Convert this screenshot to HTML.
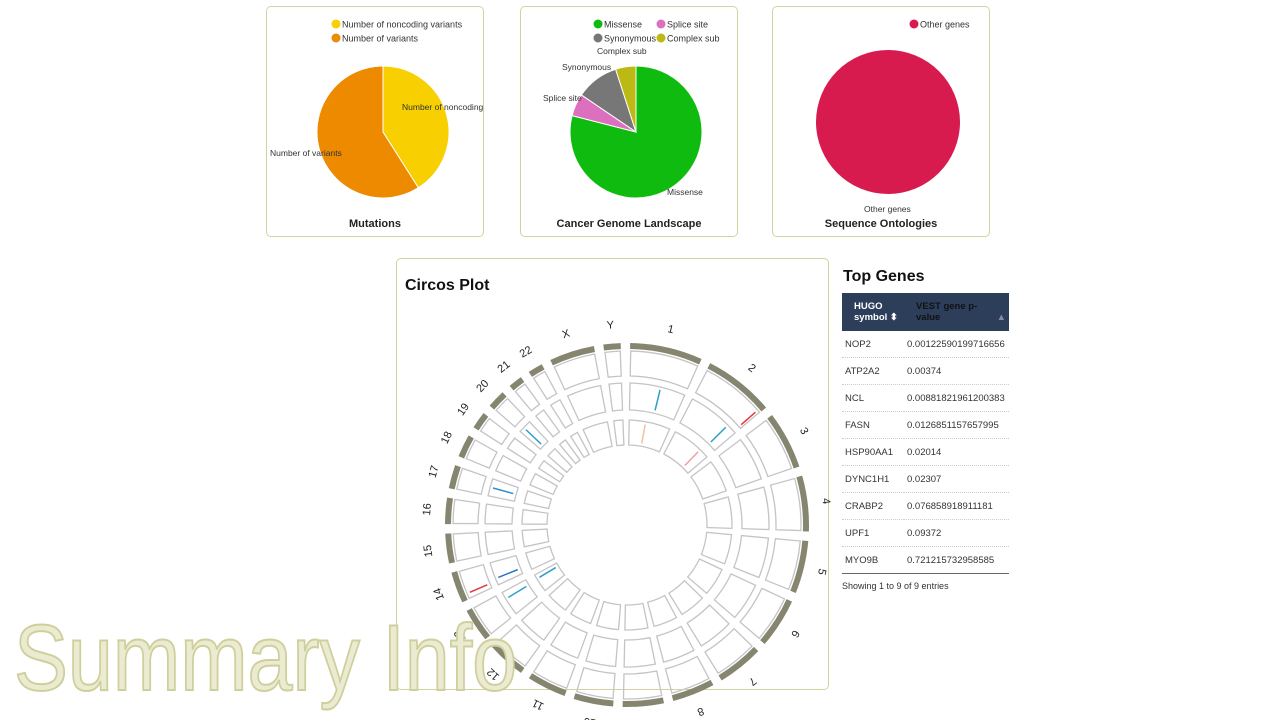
<!DOCTYPE html>
<html><head><meta charset="utf-8"><style>
body{margin:0;width:1280px;height:720px;background:#fff;font-family:"Liberation Sans",sans-serif;position:relative;overflow:hidden}
.box{position:absolute;border:1px solid #d2d2a0;border-radius:5px;background:#fff}
.ttl{position:absolute;width:100%;text-align:center;font-weight:bold;font-size:11px;color:#222}
.tbl{position:absolute;left:842px;top:293px;width:167px;font-size:9.5px;color:#333;border-collapse:collapse}
.tbl th{background:#2c3e5a;color:#fff;text-align:left;font-size:9.5px;height:38px;padding:0 0 0 12px;font-weight:bold;line-height:11px}
.tbl td{height:26px;border-bottom:1px dotted #ccc;padding:0 0 0 3px;white-space:nowrap}
svg text{font-family:"Liberation Sans",sans-serif}
</style></head><body>
<div class="box" style="left:266px;top:6px;width:216px;height:229px">
<div class="ttl" style="top:211px">Mutations</div></div>
<div class="box" style="left:520px;top:6px;width:216px;height:229px">
<div class="ttl" style="top:211px">Cancer Genome Landscape</div></div>
<div class="box" style="left:772px;top:6px;width:216px;height:229px">
<div class="ttl" style="top:211px">Sequence Ontologies</div></div>
<div class="box" style="left:396px;top:258px;width:431px;height:430px">
<div style="position:absolute;left:8px;top:18px;font-size:16px;font-weight:bold;color:#111">Circos Plot</div></div>
<div style="position:absolute;left:843px;top:268px;font-size:16px;font-weight:bold;color:#111">Top Genes</div>
<table class="tbl">
<tr><th style="width:50px">HUGO<br>symbol ⬍</th><th style="color:#111">VEST gene p-<br>value <span style="float:right;color:#88a;padding-right:3px">▲</span></th></tr>
<tr><td>NOP2</td><td>0.00122590199716656</td></tr>
<tr><td>ATP2A2</td><td>0.00374</td></tr>
<tr><td>NCL</td><td>0.00881821961200383</td></tr>
<tr><td>FASN</td><td>0.0126851157657995</td></tr>
<tr><td>HSP90AA1</td><td>0.02014</td></tr>
<tr><td>DYNC1H1</td><td>0.02307</td></tr>
<tr><td>CRABP2</td><td>0.076858918911181</td></tr>
<tr><td>UPF1</td><td>0.09372</td></tr>
<tr><td style="border-bottom:1px solid #666">MYO9B</td><td style="border-bottom:1px solid #666">0.721215732958585</td></tr>
</table>
<div style="position:absolute;left:842px;top:581px;font-size:9px;color:#333">Showing 1 to 9 of 9 entries</div>
<svg id="svg" width="1280" height="720" style="position:absolute;left:0;top:0"></svg>
<div style="position:absolute;left:14px;top:604px;font-size:94px;color:#ebebd2;-webkit-text-stroke:2px #cfcf9c;white-space:nowrap;transform:scaleX(0.86);transform-origin:0 0">Summary Info</div>
<script>
const mutLabels=["Number of noncoding variants","Number of variants"];
const mutValues=[41,59];
const mutColors=["#f8cf00","#ee8a00"];
const cglLabels=["Missense","Splice site","Synonymous","Complex sub"];
const cglValues=[79,5.5,10.5,5];
const cglColors=["#10bb10","#dd6fbf","#777777","#bcb814"];
const soLabels=["Other genes"];
const soValues=[1];
const soColors=["#d81b4f"];
const chrNames=["1","2","3","4","5","6","7","8","9","10","11","12","13","14","15","16","17","18","19","20","21","22","X","Y"];
const chrLengths=[249,243,198,191,181,171,159,146,141,136,135,134,115,107,102,90,81,78,59,63,48,51,155,59];
const markChr=[0,1,1,1,13,13,12,12,19,16,0];
const markPos=[0.55,0.95,0.8,0.75,0.2,0.3,0.7,0.75,0.4,0.5,0.4];
const markRing=[1,0,1,2,0,1,1,2,1,1,2];
const markColor=["#2aa0c8","#e83838","#2aa0c8","#f0a0a0","#e83838","#2a70c8","#2aa0c8","#2aa0c8","#2aa0c8","#2a90c8","#f0c0a0"];
const svg=document.getElementById('svg');
const NS="http://www.w3.org/2000/svg";
function mk(t,a,p){const e=document.createElementNS(NS,t);for(const k in a)e.setAttribute(k,a[k]);(p||svg).appendChild(e);return e;}
function pt(cx,cy,r,a){return [cx+r*Math.sin(a),cy-r*Math.cos(a)];}
function pie(cx,cy,r,vals,cols,name){const tot=vals.reduce((a,b)=>a+b,0);let a0=0;
 vals.forEach((v,i)=>{const a1=a0+v/tot*2*Math.PI;let e;
  if(vals.length===1){e=mk('circle',{cx:cx,cy:cy,r:r,fill:cols[i]});}
  else{const p0=pt(cx,cy,r,a0),p1=pt(cx,cy,r,a1);
  e=mk('path',{d:`M${cx},${cy}L${p0[0]},${p0[1]}A${r},${r} 0 ${a1-a0>Math.PI?1:0} 1 ${p1[0]},${p1[1]}Z`,fill:cols[i],stroke:'#fff','stroke-width':1});}
  
  
  a0=a1;});}
function legend(x,y,labels,cols,cw,name){labels.forEach((l,i)=>{const col=i%2,row=Math.floor(i/2);const gx=x+col*cw,gy=y+row*14;
 const c=mk('circle',{cx:gx,cy:gy,r:4.5,fill:cols[i]});
 
 
 const t=mk('text',{x:gx+6,y:gy+3.5,'font-size':9,fill:'#333'});t.textContent=l;
 
 });}
function lbl(x,y,s){const t=mk('text',{x:x,y:y,'font-size':8.5,fill:'#333'});t.textContent=s;
 
 }
pie(383,132,66,mutValues,mutColors,'mutations');
legend(336,24,[mutLabels[0]],[mutColors[0]],0,'mutations');
legend(336,38,[mutLabels[1]],[mutColors[1]],0,'mutations');
lbl(402,110,"Number of noncoding");lbl(270,156,mutLabels[1]);
pie(636,132,66,cglValues,cglColors,'cgl');
legend(598,24,cglLabels,cglColors,63,'cgl');
lbl(597,54,"Complex sub");lbl(562,70,"Synonymous");lbl(543,101,"Splice site");lbl(667,195,"Missense");
pie(888,122,72,soValues,soColors,'so');
legend(914,24,soLabels,soColors,0,'so');
lbl(864,212,"Other genes");
const cx=627,cy=525,gap=3*Math.PI/180,start=1*Math.PI/180;
const tot=chrLengths.reduce((a,b)=>a+b,0);const avail=2*Math.PI-gap*chrLengths.length;
const rings=[[149,174],[115,142],[80,105]];
let a=start;const chrStart=[],chrEnd=[];
function arc(r0,r1,a0,a1,attrs){const p0=pt(cx,cy,r1,a0),p1=pt(cx,cy,r1,a1),p2=pt(cx,cy,r0,a1),p3=pt(cx,cy,r0,a0);const lg=a1-a0>Math.PI?1:0;
 return mk('path',Object.assign({d:`M${p0[0]},${p0[1]}A${r1},${r1} 0 ${lg} 1 ${p1[0]},${p1[1]}L${p2[0]},${p2[1]}A${r0},${r0} 0 ${lg} 0 ${p3[0]},${p3[1]}Z`},attrs));}
chrLengths.forEach((L,i)=>{const a1=a+L/tot*avail;chrStart.push(a);chrEnd.push(a1);
 const id=arc(176,182,a,a1,{fill:'#858570'});
 
 
 rings.forEach(r=>{const s=arc(r[0],r[1],a+0.004,a1-0.004,{fill:'none',stroke:'#c4c4c8','stroke-width':1.3});
  
  });
 const m=(a+a1)/2,p=pt(cx,cy,200,m);
 const t=mk('text',{x:p[0],y:p[1],'font-size':11,fill:'#222','text-anchor':'middle','dominant-baseline':'middle',transform:`rotate(${m*180/Math.PI} ${p[0]} ${p[1]})`});
 t.textContent=chrNames[i];
 
 
 a=a1+gap;});
markChr.forEach((c,i)=>{const ang=chrStart[c]+(chrEnd[c]-chrStart[c])*markPos[i];const r=rings[markRing[i]];
 const p0=pt(cx,cy,r[0]+3,ang),p1=pt(cx,cy,r[1]-3,ang);
 const l=mk('line',{x1:p0[0],y1:p0[1],x2:p1[0],y2:p1[1],stroke:markColor[i],'stroke-width':1.5});
 
 });
</script>
</body></html>
